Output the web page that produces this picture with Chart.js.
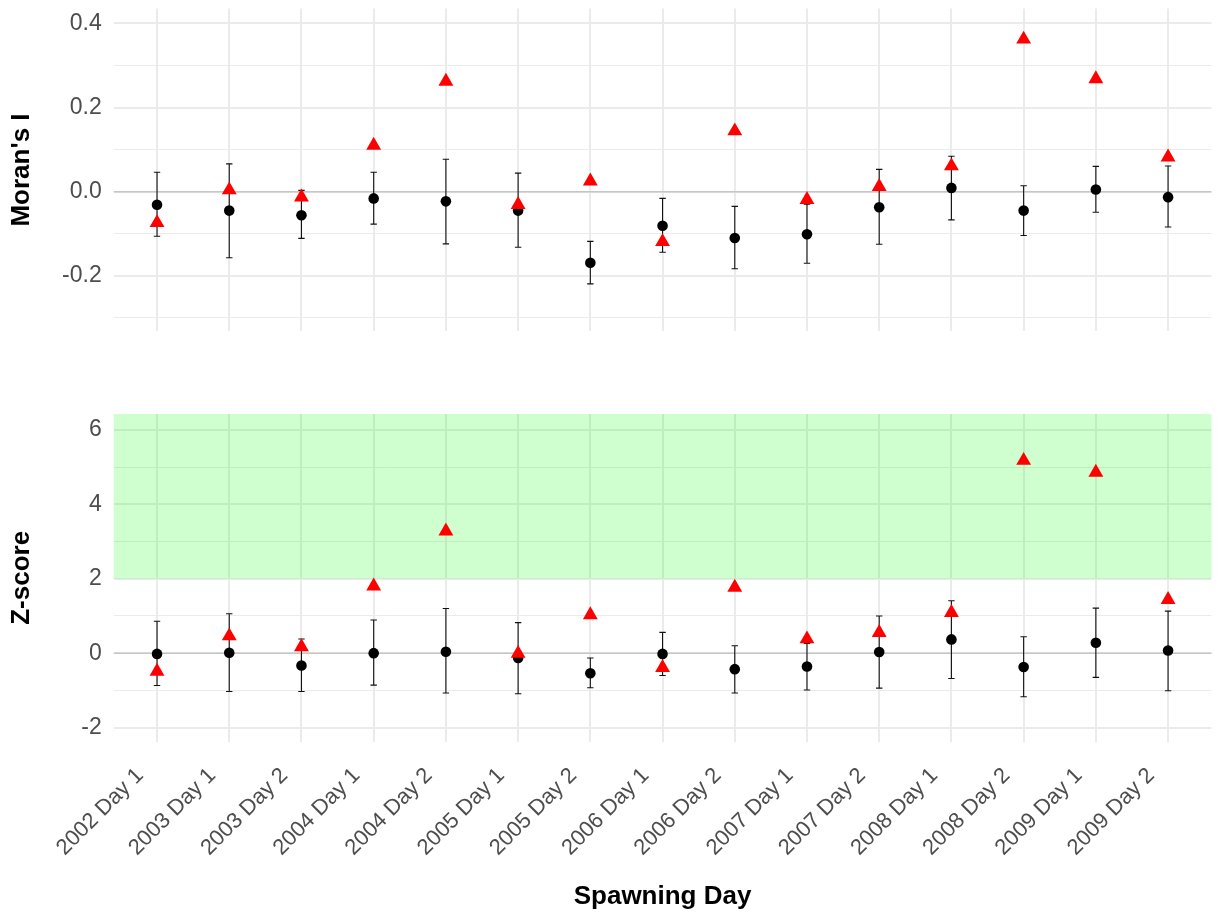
<!DOCTYPE html>
<html>
<head>
<meta charset="utf-8">
<script src="https://cdn.jsdelivr.net/npm/chart.js@4.4.1/dist/chart.umd.min.js"></script>
<style>
  html, body { margin: 0; padding: 0; background: #ffffff; }
  #wrap { position: relative; width: 1220px; height: 916px; }
  #moranCanvas { position: absolute; left: 0; top: 0; }
  #zCanvas { position: absolute; left: 0; top: 400px; }
</style>
</head>
<body>
<div id="wrap">
  <canvas id="moranCanvas" width="1220" height="340"></canvas>
  <canvas id="zCanvas" width="1220" height="516"></canvas>
</div>
<script>
// Spawning days (x categories)
const spawningDays = [
  '2002 Day 1', '2003 Day 1', '2003 Day 2', '2004 Day 1', '2004 Day 2',
  '2005 Day 1', '2005 Day 2', '2006 Day 1', '2006 Day 2', '2007 Day 1',
  '2007 Day 2', '2008 Day 1', '2008 Day 2', '2009 Day 1', '2009 Day 2'
];

// Moran's I: observed (red triangles), expected with interval (black dots + bars)
const moranObserved = [-0.074, 0.004, -0.013, 0.110, 0.262, -0.031, 0.025, -0.119, 0.144, -0.019, 0.012, 0.061, 0.362, 0.268, 0.082];
const moranExpected = [-0.031, -0.045, -0.056, -0.016, -0.023, -0.045, -0.169, -0.081, -0.110, -0.101, -0.037, 0.009, -0.045, 0.005, -0.013];
const moranLower    = [-0.106, -0.157, -0.111, -0.077, -0.124, -0.132, -0.219, -0.144, -0.183, -0.170, -0.125, -0.067, -0.104, -0.049, -0.084];
const moranUpper    = [0.046, 0.066, 0.003, 0.046, 0.077, 0.044, -0.118, -0.016, -0.035, -0.030, 0.053, 0.084, 0.014, 0.060, 0.061];

// Z-scores: observed (red triangles), expected with interval (black dots + bars)
const zObserved = [-0.49, 0.46, 0.17, 1.80, 3.28, -0.01, 1.03, -0.39, 1.77, 0.38, 0.55, 1.09, 5.18, 4.86, 1.44];
const zExpected = [-0.02, 0.01, -0.33, 0.00, 0.04, -0.13, -0.54, -0.02, -0.43, -0.36, 0.03, 0.37, -0.37, 0.28, 0.07];
const zLower    = [-0.87, -1.03, -1.03, -0.86, -1.07, -1.09, -0.93, -0.60, -1.07, -0.99, -0.94, -0.68, -1.17, -0.65, -1.01];
const zUpper    = [0.86, 1.06, 0.38, 0.89, 1.20, 0.82, -0.13, 0.56, 0.20, 0.26, 1.00, 1.41, 0.44, 1.21, 1.13];

// Axis ticks
const moranMajorTicks = [-0.2, 0, 0.2, 0.4];
const moranTickLabels = ['-0.2', '0.0', '0.2', '0.4'];
const moranMinorTicks = [-0.3, -0.1, 0.1, 0.3];
const zMajorTicks = [-2, 0, 2, 4, 6];
const zTickLabels = ['-2', '0', '2', '4', '6'];
const zMinorTicks = [-1, 1, 3, 5];

// Significance threshold for the shaded region
const zThreshold = 2;

const FONT = "'Liberation Sans', Arial, Helvetica, sans-serif";
const GRID = '#EBEBEB';

// Draws the shaded band, zero line and interval bars beneath the points
const intervalPlugin = {
  id: 'intervals',
  beforeDatasetsDraw(chart, args, opts) {
    const { ctx, chartArea: a, scales: { x, y } } = chart;
    ctx.save();
    if (opts.bandFrom !== undefined) {
      const yb = y.getPixelForValue(opts.bandFrom);
      ctx.fillStyle = 'rgba(0, 255, 0, 0.19)';
      ctx.fillRect(a.left, a.top, a.right - a.left, yb - a.top);
    }
    const y0 = y.getPixelForValue(0);
    ctx.strokeStyle = '#C6C6C6';
    ctx.lineWidth = 1.5;
    ctx.beginPath();
    ctx.moveTo(a.left, y0);
    ctx.lineTo(a.right, y0);
    ctx.stroke();

    ctx.strokeStyle = '#111111';
    ctx.lineWidth = 1.1;
    const cap = 3.2;
    opts.lower.forEach((lo, i) => {
      const px = x.getPixelForValue(i);
      const pLo = y.getPixelForValue(lo);
      const pHi = y.getPixelForValue(opts.upper[i]);
      ctx.beginPath();
      ctx.moveTo(px, pLo); ctx.lineTo(px, pHi);
      ctx.moveTo(px - cap, pLo); ctx.lineTo(px + cap, pLo);
      ctx.moveTo(px - cap, pHi); ctx.lineTo(px + cap, pHi);
      ctx.stroke();
    });
    ctx.restore();
  }
};

function points(values) {
  return values.map((v, i) => ({ x: i, y: v }));
}

function makePanel(canvas, cfg) {
  const majorSet = new Set(cfg.majorTicks);
  return new Chart(canvas, {
    type: 'scatter',
    data: {
      datasets: [
        {
          data: points(cfg.observed),
          pointStyle: 'triangle',
          pointRadius: 8.6,
          backgroundColor: '#FF0000',
          borderColor: '#FF0000',
          borderWidth: 0
        },
        {
          data: points(cfg.expected),
          pointStyle: 'circle',
          pointRadius: 5.3,
          backgroundColor: '#000000',
          borderColor: '#000000',
          borderWidth: 0
        }
      ]
    },
    plugins: [intervalPlugin],
    options: {
      responsive: false,
      animation: false,
      devicePixelRatio: 1,
      events: [],
      layout: { padding: cfg.padding },
      plugins: {
        legend: { display: false },
        tooltip: { enabled: false },
        intervals: { lower: cfg.lower, upper: cfg.upper, bandFrom: cfg.bandFrom }
      },
      scales: {
        x: {
          type: 'linear',
          min: -0.6,
          max: spawningDays.length - 1 + 0.6,
          afterBuildTicks: s => { s.ticks = spawningDays.map((_, i) => ({ value: i })); },
          afterFit: s => {
            s.height = cfg.xHeight;
            s.paddingLeft = 0; s.paddingRight = 0;
          },
          border: { display: false },
          grid: { color: GRID, lineWidth: 2, drawTicks: false },
          ticks: cfg.showX ? {
            display: true,
            autoSkip: false,
            minRotation: 45,
            maxRotation: 45,
            padding: 21,
            labelOffset: -17,
            color: '#4D4D4D',
            font: { family: FONT, size: 22 },
            callback: v => spawningDays[v]
          } : { display: false },
          title: cfg.showX ? {
            display: true,
            text: 'Spawning Day',
            color: '#000000',
            font: { family: FONT, size: 26, weight: 'bold' },
            padding: { top: 0, bottom: 4 }
          } : { display: false }
        },
        y: {
          type: 'linear',
          min: cfg.yMin,
          max: cfg.yMax,
          afterBuildTicks: s => {
            s.ticks = cfg.majorTicks.concat(cfg.minorTicks)
              .sort((a, b) => a - b)
              .map(v => ({ value: v }));
          },
          afterFit: s => {
            s.width = 113.7;
            s.paddingTop = 0; s.paddingBottom = 0;
          },
          border: { display: false },
          grid: {
            drawTicks: false,
            color: GRID,
            lineWidth: c => (c.tick && majorSet.has(c.tick.value)) ? 2 : 1
          },
          ticks: {
            autoSkip: false,
            padding: 12,
            color: '#4D4D4D',
            font: { family: FONT, size: 23 },
            callback: v => {
              const k = cfg.majorTicks.indexOf(v);
              return k >= 0 ? cfg.tickLabels[k] : '';
            }
          },
          title: {
            display: true,
            text: cfg.yTitle,
            color: '#000000',
            font: { family: FONT, size: 26, weight: 'bold' },
            padding: { top: 6, bottom: 0 }
          }
        }
      }
    }
  });
}

makePanel(document.getElementById('moranCanvas'), {
  observed: moranObserved,
  expected: moranExpected,
  lower: moranLower,
  upper: moranUpper,
  majorTicks: moranMajorTicks,
  minorTicks: moranMinorTicks,
  tickLabels: moranTickLabels,
  yMin: -0.332,
  yMax: 0.435,
  yTitle: "Moran's I",
  showX: false,
  xHeight: 0,
  padding: { top: 5.7, bottom: 7, left: 0, right: 1.4 }
});

makePanel(document.getElementById('zCanvas'), {
  observed: zObserved,
  expected: zExpected,
  lower: zLower,
  upper: zUpper,
  majorTicks: zMajorTicks,
  minorTicks: zMinorTicks,
  tickLabels: zTickLabels,
  yMin: -2.38,
  yMax: 6.43,
  yTitle: 'Z-score',
  showX: true,
  xHeight: 174.3,
  bandFrom: zThreshold,
  padding: { top: 14, bottom: 0, left: 0, right: 1.4 }
});
</script>
</body>
</html>
